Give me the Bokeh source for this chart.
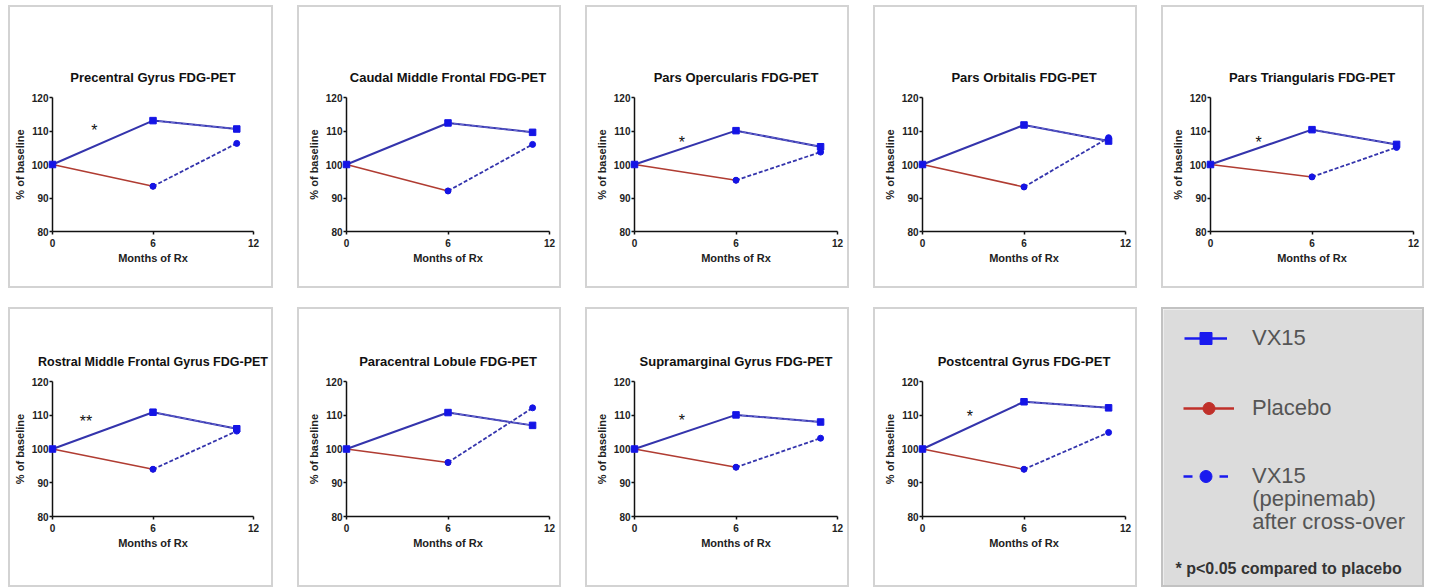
from bokeh.plotting import figure
from bokeh.layouts import row, column
from bokeh.models import Range1d, Label, Legend, LegendItem, FixedTicker, ColumnDataSource
from bokeh.embed import file_html
from bokeh.resources import INLINE
from bokeh.core.properties import value

# ---------------- data ----------------
titles = [
    "Precentral Gyrus FDG-PET",
    "Caudal Middle Frontal FDG-PET",
    "Pars Opercularis FDG-PET",
    "Pars Orbitalis FDG-PET",
    "Pars Triangularis FDG-PET",
    "Rostral Middle Frontal Gyrus FDG-PET",
    "Paracentral Lobule FDG-PET",
    "Supramarginal Gyrus FDG-PET",
    "Postcentral Gyrus FDG-PET",
]
months_vx15 = [0, 6, 11]
months_placebo = [0, 6]
months_crossover = [6, 11]

vx15 = [
    [100, 113.1, 110.6],
    [100, 112.4, 109.6],
    [100, 110.1, 105.3],
    [100, 111.8, 107.0],
    [100, 110.4, 106.0],
    [100, 110.9, 106.0],
    [100, 110.8, 107.0],
    [100, 110.1, 108.0],
    [100, 114.0, 112.2],
]
placebo = [
    [100, 93.5],
    [100, 92.1],
    [100, 95.3],
    [100, 93.3],
    [100, 96.3],
    [100, 94.0],
    [100, 96.0],
    [100, 94.6],
    [100, 94.0],
]
crossover = [
    [93.5, 106.3],
    [92.1, 106.0],
    [95.3, 103.7],
    [93.3, 108.0],
    [96.3, 105.1],
    [94.0, 105.3],
    [96.0, 112.2],
    [94.6, 103.2],
    [94.0, 104.9],
]
star_text = ["*", None, "*", None, "*", "**", None, "*", "*"]
star_month = [2.5, None, 2.8, None, 2.85, 2.0, None, 2.8, 2.8]
star_value = [110.8, None, 107.3, None, 107.3, 108.9, None, 109.3, 110.4]

x_ticks = [0, 6, 12]
y_ticks = [80, 90, 100, 110, 120]

legend_labels = ["VX15", "Placebo", "VX15"]
legend_extra = ["(pepinemab)", "after cross-over"]
footnote = "* p<0.05 compared to placebo"

# ---------------- style ----------------
FONT = "Liberation Sans"
BLUE_LINE = "#3434ac"
BLUE_DASH_OVER = "#6a6ad6"
BLUE_MARK = "#1414e6"
RED_LINE = "#b03c32"
PANEL_BORDER = "2px solid #d3d3d3"

fig_w = [265, 264, 264, 264, 263]
left_border = [40, 47, 47, 47, 47]
FRAME_W = 203
row_h = [283, 280]
row_top = [90, 72]
row_frame_h = [134, 135]


def make_panel(i, r, c):
    w = fig_w[c]
    h = row_h[r]
    p = figure(
        width=w, height=h,
        x_range=Range1d(0, 12), y_range=Range1d(80, 120),
        output_backend="svg", toolbar_location=None,
        min_border_left=left_border[c],
        min_border_right=w - left_border[c] - FRAME_W,
        min_border_top=row_top[r],
        min_border_bottom=h - row_top[r] - row_frame_h[r],
        title=titles[i],
    )
    p.styles = {"border": PANEL_BORDER}
    p.outline_line_color = None
    p.xgrid.visible = False
    p.ygrid.visible = False
    p.background_fill_color = "white"
    p.border_fill_color = "white"

    p.title.text_font = FONT
    p.title.text_font_size = "12.5px" if len(titles[i]) > 32 else "13px"
    p.title.text_font_style = "bold"
    p.title.align = "center"
    p.title.text_color = "#111111"
    p.title.standoff = 26

    p.xaxis.ticker = FixedTicker(ticks=x_ticks)
    p.yaxis.ticker = FixedTicker(ticks=y_ticks)
    p.xaxis.axis_label = "Months of Rx"
    p.yaxis.axis_label = "% of baseline"
    for ax in p.axis:
        ax.axis_line_color = "#111111"
        ax.axis_line_width = 1.5
        ax.major_tick_line_color = "#111111"
        ax.major_tick_line_width = 1.5
        ax.major_tick_in = 0
        ax.major_tick_out = 3
        ax.minor_tick_line_color = None
        ax.major_label_text_font = FONT
        ax.major_label_text_font_size = "10px"
        ax.major_label_text_font_style = "bold"
        ax.major_label_text_color = "#222222"
        ax.axis_label_text_font = FONT
        ax.axis_label_text_font_size = "11px"
        ax.axis_label_text_font_style = "bold"
        ax.axis_label_text_color = "#222222"
    p.xaxis.major_label_standoff = 4
    p.xaxis.axis_label_standoff = 2
    p.yaxis.major_label_standoff = 1
    p.yaxis.axis_label_standoff = 3

    rs = []
    rs.append(p.line(months_placebo, placebo[i], line_color=RED_LINE, line_width=1.5))
    rs.append(p.scatter(months_placebo, placebo[i], marker="circle", size=5.5, color=RED_LINE))
    rs.append(p.line(months_crossover, crossover[i], line_color=BLUE_LINE, line_width=1.8, line_dash="4 2"))
    rs.append(p.line(months_vx15, vx15[i], line_color=BLUE_LINE, line_width=2))
    rs.append(p.line(months_vx15[1:], vx15[i][1:], line_color=BLUE_DASH_OVER, line_width=1, line_dash="4 2"))
    rs.append(p.scatter(months_crossover, crossover[i], marker="circle", size=6, color=BLUE_MARK))
    rs.append(p.scatter(months_vx15, vx15[i], marker="square", size=6.5, color=BLUE_MARK))
    for rr in rs:
        rr.level = "overlay"

    if star_text[i]:
        p.text(x=[star_month[i]], y=[star_value[i] - 0.75], text=[star_text[i]],
               text_font=value(FONT), text_font_size="16px", text_color="#111111",
               text_align="center", text_baseline="middle")
    return p


# ---------------- legend panel ----------------
def make_legend_panel():
    w = fig_w[4]
    h = row_h[1]
    lg = figure(width=w, height=h, x_range=Range1d(0, 1), y_range=Range1d(0, 1),
                x_axis_type=None, y_axis_type=None, output_backend="svg",
                toolbar_location=None, min_border=0,
                background_fill_color="#dcdcdc", border_fill_color="#dcdcdc")
    lg.outline_line_color = None
    lg.styles = {"border": "2px solid #c2c2c2"}
    nan = float("nan")
    dummy = ColumnDataSource(dict(x=[nan], y=[nan]))

    r1l = lg.line("x", "y", source=dummy, line_color="#1a1aee", line_width=2.5)
    r1m = lg.scatter("x", "y", source=dummy, marker="square", size=11, color="#1a1aee")
    r2l = lg.line("x", "y", source=dummy, line_color="#c0302a", line_width=2.5)
    r2m = lg.scatter("x", "y", source=dummy, marker="circle", size=11, color="#c0302a")
    r3l = lg.line("x", "y", source=dummy, line_color="#1a1aee", line_width=2.5, line_dash="9 27")
    r3m = lg.scatter("x", "y", source=dummy, marker="circle", size=11, color="#1a1aee")

    fb = h  # frame bottom (frame covers the whole canvas)
    specs = [
        (legend_labels[0], [r1l, r1m], 21, 29, 43, 25),
        (legend_labels[1], [r2l, r2m], 20, 99, 51, 18),
        (legend_labels[2], [r3l, r3m], 20, 167, 45, 24),
    ]
    item_h = 30
    for label, rends, x0, yc, gw, standoff in specs:
        leg = Legend(items=[LegendItem(label=label, renderers=rends)],
                     location=(x0, fb - (yc + item_h / 2)),
                     glyph_width=gw, glyph_height=item_h, label_height=item_h,
                     label_standoff=standoff, padding=0, margin=0,
                     border_line_color=None, background_fill_alpha=0,
                     label_text_font=FONT, label_text_font_size="22px",
                     label_text_color="#555555")
        lg.add_layout(leg)

    for txt, yc in zip(legend_extra, [189, 212]):
        lg.add_layout(Label(x=88.7, y=fb - yc, x_units="screen", y_units="screen", text=txt,
                            text_font=FONT, text_font_size="22px", text_color="#555555",
                            text_baseline="middle"))
    lg.add_layout(Label(x=12, y=fb - 259, x_units="screen", y_units="screen", text=footnote,
                        text_font=FONT, text_font_size="16px", text_font_style="bold",
                        text_color="#333333", text_baseline="middle"))
    return column(lg)


row1 = row([make_panel(i, 0, i) for i in range(5)], spacing=24)
row2 = row([make_panel(5 + j, 1, j) for j in range(4)] + [make_legend_panel()], spacing=24)
layout = column([row1, row2], spacing=19, margin=(5, 0, 0, 8))

open("out.html", "w").write(file_html(layout, INLINE))
